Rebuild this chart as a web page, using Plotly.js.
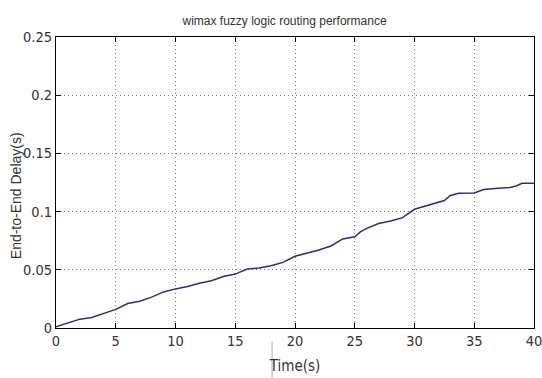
<!DOCTYPE html>
<html>
<head>
<meta charset="utf-8">
<script src="https://cdn.plot.ly/plotly-3.0.1.min.js"></script>
<style>html,body{margin:0;padding:0;background:#fff;}#chart{width:542px;height:378px;}</style>
</head>
<body>
<div id="chart"></div>
<script>
var chartTitle = "wimax fuzzy logic routing performance";
var xLabel = "Time(s)";
var yLabel = "End-to-End Delay(s)";
var time = [0,1,2,3,4,5,6,7,8,9,10,11,12,13,14,15,16,17,18,19,20,21,22,23,24,25,25.5,26,27,28,29,30,31,32,32.5,33,33.7,35,35.8,37,38,38.5,39,40];
var delay = [0.001,0.0042,0.0076,0.009,0.0127,0.016,0.021,0.023,0.0265,0.031,0.0336,0.0356,0.0385,0.0406,0.0443,0.0463,0.0506,0.0515,0.0535,0.0564,0.0616,0.064,0.067,0.0705,0.0765,0.0784,0.0828,0.0856,0.0897,0.0919,0.0948,0.102,0.1048,0.108,0.1095,0.1138,0.1158,0.116,0.119,0.120,0.1207,0.122,0.1244,0.1244];
var xTicks = [0,5,10,15,20,25,30,35,40];
var yTicks = [0,0.05,0.1,0.15,0.2,0.25];

var narrow = '"DejaVu Sans Condensed", "Liberation Sans Narrow", "Arial Narrow", sans-serif';
var regular = '"Liberation Sans", Arial, sans-serif';

var trace = {
  x: time, y: delay, type: 'scatter', mode: 'lines',
  line: {color: '#2e2e72', width: 1.5},
  hoverinfo: 'none'
};

var axisCommon = {
  showline: true, linecolor: '#000', linewidth: 1, mirror: 'ticks',
  ticks: 'inside', ticklen: 5, tickcolor: '#000', tickwidth: 1,
  showgrid: true, gridcolor: '#777', gridwidth: 1, griddash: '1px,3px',
  zeroline: false, ticklabeloverflow: 'allow',
  tickfont: {family: narrow, size: 14.5, color: '#333'}
};

var layout = {
  width: 542, height: 378,
  margin: {l: 56, r: 8, t: 37, b: 50},
  paper_bgcolor: '#fff', plot_bgcolor: '#fff',
  showlegend: false,
  title: {text: chartTitle, x: 0.525, xanchor: 'center', y: 0.945, yanchor: 'middle',
          font: {family: regular, size: 12, color: '#333'}},
  xaxis: Object.assign({}, axisCommon, {
    range: [0, 40], tickvals: xTicks,
    title: {text: xLabel, standoff: 12, font: {family: narrow, size: 15, color: '#333'}}
  }),
  yaxis: Object.assign({}, axisCommon, {
    range: [0, 0.25], tickvals: yTicks
  }),
  annotations: [{text: yLabel, xref: 'paper', yref: 'paper', x: -0.083, y: 0.454,
                 xanchor: 'center', yanchor: 'middle', textangle: -90, showarrow: false,
                 font: {family: regular, size: 14, color: '#333'}}],
  shapes: [{type: 'line', xref: 'paper', yref: 'paper', x0: 0.452, x1: 0.452, y0: -0.048, y1: -0.175,
            line: {color: '#aaa', width: 1}}]
};

Plotly.newPlot('chart', [trace], layout, {staticPlot: true, displayModeBar: false});
</script>
</body>
</html>
